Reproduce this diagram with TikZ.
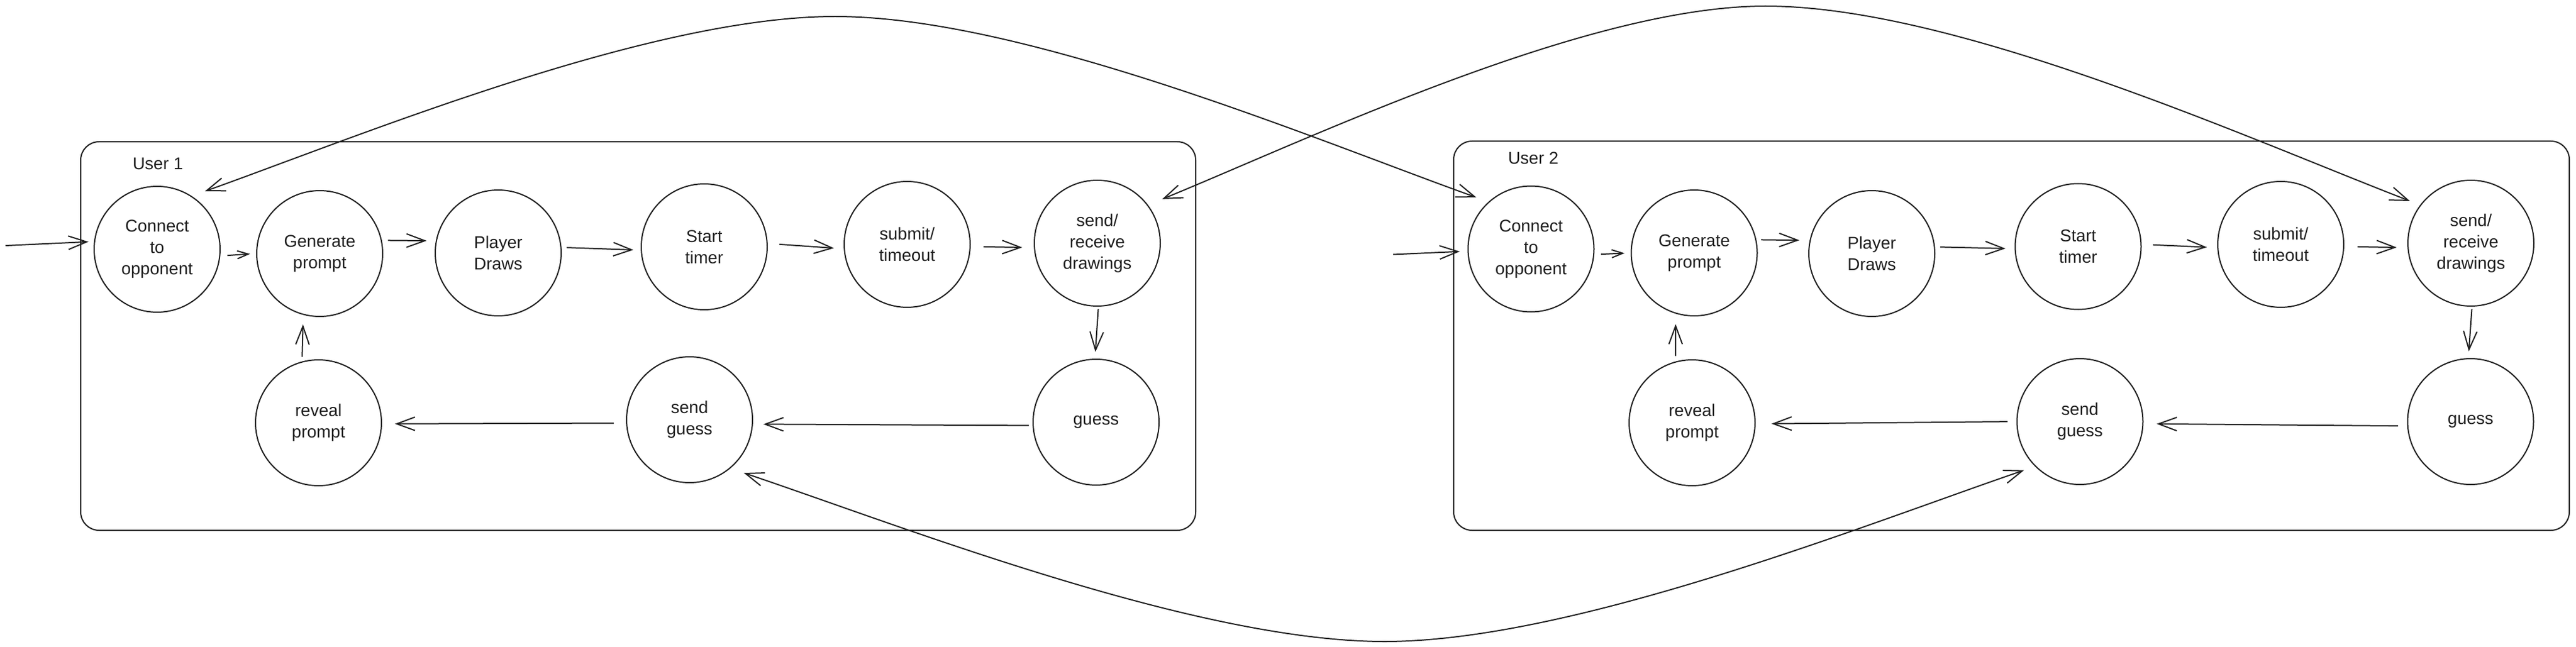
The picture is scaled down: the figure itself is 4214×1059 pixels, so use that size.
\documentclass[tikz,border=0pt]{standalone}
\usepackage{fontspec}
\setmainfont{Liberation Sans}
\usetikzlibrary{arrows.meta}
\definecolor{ink}{HTML}{1E1E1E}
\begin{document}
\begin{tikzpicture}[x=1pt,y=-1pt,line width=2pt,color=ink,
  state/.style={circle, draw=ink, minimum size=206pt, inner sep=0pt, align=center, font=\fontsize{28}{35}\selectfont},
  arr/.style={-{Straight Barb[length=30pt,width=22pt]}},
  sarr/.style={-{Straight Barb[length=18pt,width=13pt]}},
  link/.style={{Straight Barb[length=30pt,width=22pt]}-{Straight Barb[length=30pt,width=22pt]}},
  lbl/.style={anchor=base west, inner sep=0pt, font=\fontsize{28}{34}\selectfont},
  frame/.style={draw=ink, rounded corners=30pt}]
\useasboundingbox (0,0) rectangle (4214,1059);
% containers
\draw[frame] (132,232) rectangle (1956,868);
\draw[frame] (2378,231) rectangle (4203,868);
\node[lbl] (u1) at (216,278) {User 1};
\node[lbl] (u2) at (2466,269) {User 2};
% user 1 states
\node[state] (A1) at (257,408) {Connect\\to\\opponent};
\node[state] (B1) at (523,415) {Generate\\prompt};
\node[state] (C1) at (815,414) {Player\\Draws};
\node[state] (D1) at (1152,404) {Start\\timer};
\node[state] (E1) at (1484,400) {submit/\\timeout};
\node[state] (F1) at (1795,398) {send/\\receive\\drawings};
\node[state] (G1) at (1793,691) {guess};
\node[state] (H1) at (1128,687) {send\\guess};
\node[state] (I1) at (521,692) {reveal\\prompt};
% user 2 states
\node[state] (A2) at (2504.5,407.5) {Connect\\to\\opponent};
\node[state] (B2) at (2771.5,414) {Generate\\prompt};
\node[state] (C2) at (3062,415) {Player\\Draws};
\node[state] (D2) at (3399.5,403.5) {Start\\timer};
\node[state] (E2) at (3731,400) {submit/\\timeout};
\node[state] (F2) at (4042,398) {send/\\receive\\drawings};
\node[state] (G2) at (4041.5,690) {guess};
\node[state] (H2) at (3402.5,690) {send\\guess};
\node[state] (I2) at (2768,692) {reveal\\prompt};
% user 1 flow
\coordinate (in1) at (9,402);
\draw[arr, shorten >=9pt] (in1) -- (A1.173);
\draw[sarr, shorten <=11.6pt, shorten >=10pt] (A1.-6) -- (B1.180);
\draw[arr, shorten <=10pt, shorten >=15pt] (B1.12) -- (C1.169);
\draw[arr, shorten <=8.4pt, shorten >=12pt] (C1.5) -- (D1.183);
\draw[arr, shorten <=19pt, shorten >=16pt] (D1.3) -- (E1.184);
\draw[arr, shorten <=21pt, shorten >=19pt] (E1.-2) -- (F1.184);
\draw[arr, shorten <=4pt, shorten >=11pt] (F1.-89) -- (G1.91);
\draw[arr, shorten <=6pt, shorten >=17pt] (G1.183) -- (H1.-4);
\draw[arr, shorten <=20pt, shorten >=21pt] (H1.183) -- (I1.-1);
\draw[arr, shorten <=7.5pt, shorten >=15.5pt] (I1.105) -- (B1.255);
% user 2 flow
\coordinate (in2) at (2279,416.5);
\draw[arr, shorten >=12.6pt] (in2) -- (A2.182);
\draw[sarr, shorten <=11pt, shorten >=10pt] (A2.-5) -- (B2.180);
\draw[arr, shorten <=7.7pt, shorten >=16.8pt] (B2.12) -- (C2.168);
\draw[arr, shorten <=8.5pt, shorten >=15pt] (C2.6) -- (D2.182);
\draw[arr, shorten <=18.6pt, shorten >=17pt] (D2.2) -- (E2.183);
\draw[arr, shorten <=21.6pt, shorten >=17.6pt] (E2.-2) -- (F2.184);
\draw[arr, shorten <=4pt, shorten >=11pt] (F2.-89) -- (G2.92);
\draw[arr, shorten <=15pt, shorten >=21.6pt] (G2.184) -- (H2.-2);
\draw[arr, shorten <=14.5pt, shorten >=26pt] (H2.180) -- (I2.-1);
\draw[arr, shorten <=9pt, shorten >=17pt] (I2.105) -- (B2.253);
% links between users
\draw[link, shorten <=23pt, shorten >=21pt] (A1.57) .. controls (590,222) and (1062,27) .. (1366,27)
  .. controls (1676,27) and (2155,230) .. (A2.132);
\draw[link, shorten <=25pt, shorten >=18pt] (F1.37) .. controls (2147,225) and (2597,10) .. (2888,10)
  .. controls (3199,10) and (3678,227) .. (F2.143);
\draw[link, shorten <=23pt, shorten >=19pt] (H1.-50) .. controls (1478,862) and (1956,1050) .. (2265,1050)
  .. controls (2573,1050) and (3050,859) .. (H2.-135);
\end{tikzpicture}
\end{document}
